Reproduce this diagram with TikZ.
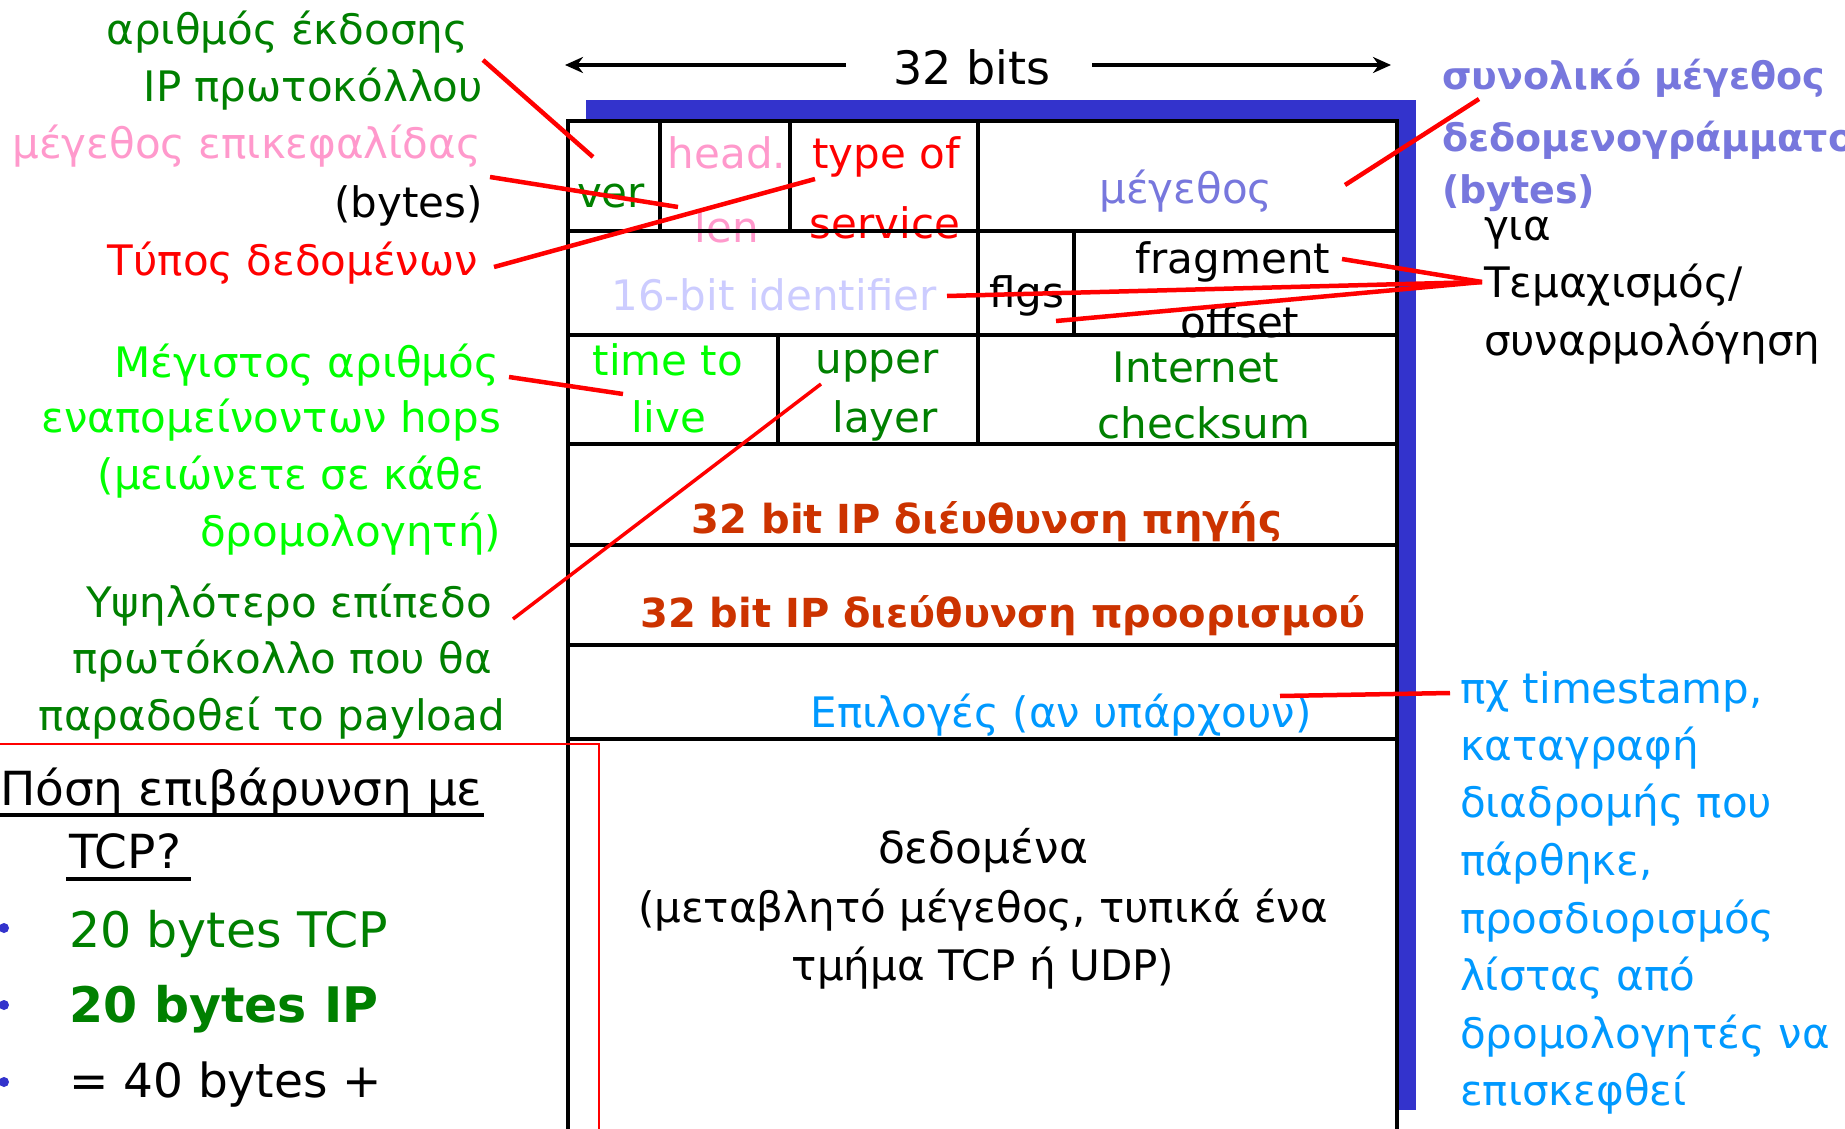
\documentclass[tikz,border=0pt]{standalone}
\usepackage{fontspec}
\setmainfont{DejaVu Sans}
\usetikzlibrary{arrows.meta}
\definecolor{dgreen}{RGB}{0,128,0}
\definecolor{lgreen}{RGB}{0,255,0}
\definecolor{pinkc}{RGB}{255,153,204}
\definecolor{lav}{RGB}{119,119,221}
\definecolor{pale}{RGB}{204,204,255}
\definecolor{addr}{RGB}{204,51,0}
\definecolor{sky}{RGB}{0,153,255}
\definecolor{shadowblue}{RGB}{51,51,204}
\newcommand\szA{\fontsize{42}{50}\selectfont}
\newcommand\szB{\fontsize{47}{56}\selectfont}
\newcommand\szG{\fontsize{49}{58}\selectfont}
\newcommand\szM{\fontsize{40}{48}\selectfont}
\newcommand\szN{\fontsize{38}{46}\selectfont}
\newcommand\szT{\fontsize{46}{55}\selectfont}
\tikzset{
  txt/.style={inner sep=0pt, outer sep=0pt, font=\szA},
  L/.style={txt, anchor=base east},
  R/.style={txt, anchor=base west},
  C/.style={txt, anchor=base},
  redline/.style={draw=red, line width=4.5pt},
  gridline/.style={draw=black, line width=4pt},
  arr/.style={draw=black, line width=4pt, -{Stealth[length=18pt,width=16pt]}}
}
\begin{document}
\begin{tikzpicture}[x=1pt,y=-1pt]
\useasboundingbox (0,0) rectangle (1845,1129);
\clip (0,0) rectangle (1845,1129);
\fill[white] (0,0) rectangle (1845,1129);

% 32 bits arrow
\node[C,font=\szT] (bits) at (972,85) {32 bits};
\coordinate (bitsLs) at (846,65);
\coordinate (bitsLe) at (565,65);
\coordinate (bitsRs) at (1092,65);
\coordinate (bitsRe) at (1391,65);
\draw[arr] (bitsLs) -- (bitsLe);
\draw[arr] (bitsRs) -- (bitsRe);

% shadow and table
\fill[shadowblue] (586,100) rectangle (1416,1110);
\filldraw[fill=white, gridline] (568,121) rectangle (1397,1140);

% table texts
\node[C,text=dgreen] (ver) at (611,207) {ver};
\node[C,text=pinkc] (headA) at (727,168) {head.};
\node[C,text=pinkc] (headB) at (727,242) {len};
\node[C,text=red] (tosA) at (886,168) {type of};
\node[C,text=red] (tosB) at (885,238) {service};
\node[C,text=lav] (len) at (1186,203) {μέγεθος};
\node[C,text=pale] (ident) at (774,310) {16-bit identifier};
\node[C] (flgs) at (1027,307) {flgs};
\node[C] (fragA) at (1233,273) {fragment};
\node[C] (fragB) at (1240,337) {offset};
\node[C,text=lgreen] (ttlA) at (668,375) {time to};
\node[C,text=lgreen] (ttlB) at (669,432) {live};
\node[C,text=dgreen] (upA) at (877,373) {upper};
\node[C,text=dgreen] (upB) at (885,432) {layer};
\node[C,text=dgreen] (ckA) at (1196,382) {Internet};
\node[C,text=dgreen] (ckB) at (1204,438) {checksum};
\node[C,font=\szM\bfseries,text=addr] (src) at (987,533) {32 bit IP διέυθυνση πηγής};
\node[C,font=\szM\bfseries,text=addr] (dst) at (1003,627) {32 bit IP διεύθυνση προορισμού};
\node[C,text=sky] (opt) at (1061,727) {Επιλογές (αν υπάρχουν)};
\node[C,font=\fontsize{44}{52}\selectfont] (dA) at (983,863) {δεδομένα};
\node[C] (dB) at (983,922) {(μεταβλητό μέγεθος, τυπικά ένα};
\node[C] (dC) at (983,980) {τμήμα TCP ή UDP)};

% grid lines
\foreach \yy in {231,335,444,545,645,739} \draw[gridline] (568,\yy) -- (1397,\yy);
\draw[gridline] (660,121) -- (660,231);
\draw[gridline] (790,121) -- (790,231);
\draw[gridline] (978,121) -- (978,444);
\draw[gridline] (1074,231) -- (1074,335);
\draw[gridline] (778,335) -- (778,444);
\draw[gridline] (568,121) rectangle (1397,1140);

% left labels
\node[L,text=dgreen] (lvA) at (468,45) {αριθμός έκδοσης};
\node[L,text=dgreen] (lvB) at (483,102) {IP πρωτοκόλλου};
\node[L,text=pinkc] (lhA) at (481,158) {μέγεθος επικεφαλίδας};
\node[L] (lhB) at (483,217) {(bytes)};
\node[L,text=red] (ltA) at (478,275) {Τύπος δεδομένων};
\node[L,text=lgreen] (lmA) at (499,377) {Μέγιστος αριθμός};
\node[L,text=lgreen] (lmB) at (501,432) {εναπομείνοντων hops};
\node[L,text=lgreen] (lmC) at (484,489) {(μειώνετε σε κάθε};
\node[L,text=lgreen] (lmD) at (501,546) {δρομολογητή)};
\node[L,text=dgreen] (luA) at (492,617) {Υψηλότερο επίπεδο};
\node[L,text=dgreen] (luB) at (492,673) {πρωτόκολλο που θα};
\node[L,text=dgreen] (luC) at (505,730) {παραδοθεί το payload};

% overhead box
\draw[red, line width=2pt] (-10,744) -- (599,744) -- (599,1140);
\node[R,font=\szB] (qA) at (0,805) {Πόση επιβάρυνση με};
\node[R,font=\szB] (qB) at (69,868) {TCP?};
\draw[black, line width=3.5pt] (0,815) -- (484,815);
\draw[black, line width=3.5pt] (66,879) -- (191,879);
\fill[shadowblue] (4,928) circle[radius=5pt];
\fill[shadowblue] (4,1005) circle[radius=5pt];
\fill[shadowblue] (4,1082) circle[radius=5pt];
\node[R,font=\szG,text=dgreen] (bA) at (69,947) {20 bytes TCP};
\node[R,font=\szG\bfseries,text=dgreen] (bB) at (69,1022) {20 bytes IP};
\node[R,font=\szB] (bC) at (69,1097) {= 40 bytes +};

% right labels
\node[R,font=\szN\bfseries,text=lav] (rsA) at (1442,90) {συνολικό μέγεθος};
\node[R,font=\szN\bfseries,text=lav] (rsB) at (1442,152) {δεδομενογράμματος};
\node[R,font=\szN\bfseries,text=lav] (rsC) at (1442,203) {(bytes)};
\node[R] (rfA) at (1484,240) {για};
\node[R] (rfB) at (1484,297) {Τεμαχισμός/};
\node[R] (rfC) at (1484,355) {συναρμολόγηση};
\node[R,text=sky] (roA) at (1460,703) {πχ timestamp,};
\node[R,text=sky] (roB) at (1460,760) {καταγραφή};
\node[R,text=sky] (roC) at (1460,817) {διαδρομής που};
\node[R,text=sky] (roD) at (1460,875) {πάρθηκε,};
\node[R,text=sky] (roE) at (1460,933) {προσδιορισμός};
\node[R,text=sky] (roF) at (1460,990) {λίστας από};
\node[R,text=sky] (roG) at (1460,1048) {δρομολογητές να};
\node[R,text=sky] (roH) at (1460,1105) {επισκεφθεί};

% connector end points
\coordinate (cVerL) at (483,60);   \coordinate (cVerT) at (593,157);
\coordinate (cHlL) at (490,177);   \coordinate (cHlT) at (678,207);
\coordinate (cTosL) at (494,267);  \coordinate (cTosT) at (815,179);
\coordinate (cLenT) at (1345,185); \coordinate (cLenR) at (1479,99);
\coordinate (cFrag) at (1482,282);
\coordinate (cIdT) at (947,296);
\coordinate (cFlT) at (1056,321);
\coordinate (cFoT) at (1342,259);
\coordinate (cTtlL) at (509,377);  \coordinate (cTtlT) at (623,394);
\coordinate (cUpL) at (513,619);   \coordinate (cUpT) at (821,384);
\coordinate (cOptT) at (1280,696); \coordinate (cOptR) at (1450,693);

\draw[redline] (cVerL) -- (cVerT);
\draw[redline] (cHlL) -- (cHlT);
\draw[redline] (cTosL) -- (cTosT);
\draw[redline] (cLenT) -- (cLenR);
\draw[redline] (cIdT) -- (cFrag);
\draw[redline] (cFlT) -- (cFrag);
\draw[redline] (cFoT) -- (cFrag);
\draw[redline] (cTtlL) -- (cTtlT);
\draw[redline, line width=3.5pt] (cUpL) -- (cUpT);
\draw[redline] (cOptT) -- (cOptR);
\end{tikzpicture}
\end{document}
